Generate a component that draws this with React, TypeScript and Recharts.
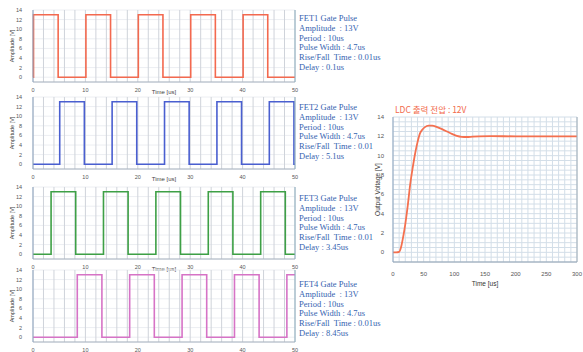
import React from 'react';
import { LineChart, Line, XAxis, YAxis, CartesianGrid } from 'recharts';

const pulseTimeTicks = [0, 10, 20, 30, 40, 50];
const amplitudeTicks = [0, 2, 4, 6, 8, 10, 12, 14];
const ldcTimeTicks = [0, 50, 100, 150, 200, 250, 300];
const ldcVoltTicks = [0, 2, 4, 6, 8, 10, 12, 14];

// switching edges of each gate pulse (time us, level V), drawn as steps
const fet1Pulse = [
  { t: 0, v: 0 }, { t: 0.1, v: 13 }, { t: 4.8, v: 0 }, { t: 10.1, v: 13 }, { t: 14.8, v: 0 },
  { t: 20.1, v: 13 }, { t: 24.8, v: 0 }, { t: 30.1, v: 13 }, { t: 34.8, v: 0 },
  { t: 40.1, v: 13 }, { t: 44.8, v: 0 }, { t: 50, v: 0 },
];
const fet2Pulse = [
  { t: 0, v: 0 }, { t: 5.1, v: 13 }, { t: 9.8, v: 0 }, { t: 15.1, v: 13 }, { t: 19.8, v: 0 },
  { t: 25.1, v: 13 }, { t: 29.8, v: 0 }, { t: 35.1, v: 13 }, { t: 39.8, v: 0 },
  { t: 45.1, v: 13 }, { t: 49.8, v: 0 }, { t: 50, v: 0 },
];
const fet3Pulse = [
  { t: 0, v: 0 }, { t: 3.45, v: 13 }, { t: 8.15, v: 0 }, { t: 13.45, v: 13 }, { t: 18.15, v: 0 },
  { t: 23.45, v: 13 }, { t: 28.15, v: 0 }, { t: 33.45, v: 13 }, { t: 38.15, v: 0 },
  { t: 43.45, v: 13 }, { t: 48.15, v: 0 }, { t: 50, v: 0 },
];
const fet4Pulse = [
  { t: 0, v: 0 }, { t: 8.45, v: 13 }, { t: 13.15, v: 0 }, { t: 18.45, v: 13 }, { t: 23.15, v: 0 },
  { t: 28.45, v: 13 }, { t: 33.15, v: 0 }, { t: 38.45, v: 13 }, { t: 43.15, v: 0 },
  { t: 48.45, v: 13 }, { t: 50, v: 13 },
];

// LDC output voltage (time us, V)
const ldcOutput = [
  { t: 0, v: 0 }, { t: 5, v: 0 }, { t: 10, v: 0.05 }, { t: 13, v: 0.5 }, { t: 16, v: 1.4 },
  { t: 20, v: 2.9 }, { t: 24, v: 4.8 }, { t: 28, v: 7.0 }, { t: 32, v: 8.7 }, { t: 36, v: 10.2 },
  { t: 40, v: 11.4 }, { t: 44, v: 12.3 }, { t: 48, v: 12.7 }, { t: 52, v: 12.95 }, { t: 58, v: 13.1 },
  { t: 64, v: 13.1 }, { t: 72, v: 12.95 }, { t: 80, v: 12.75 }, { t: 88, v: 12.5 }, { t: 96, v: 12.25 },
  { t: 104, v: 12.05 }, { t: 112, v: 11.95 }, { t: 120, v: 11.93 }, { t: 130, v: 11.97 },
  { t: 140, v: 12.0 }, { t: 160, v: 12.02 }, { t: 200, v: 12.0 }, { t: 250, v: 12.0 }, { t: 300, v: 12.0 },
];

const fet1Info = ['FET1 Gate Pulse', 'Amplitude  : 13V', 'Period : 10us', 'Pulse Width : 4.7us', 'Rise/Fall  Time : 0.01us', 'Delay : 0.1us'];
const fet2Info = ['FET2 Gate Pulse', 'Amplitude  : 13V', 'Period : 10us', 'Pulse Width : 4.7us', 'Rise/Fall  Time : 0.01', 'Delay : 5.1us'];
const fet3Info = ['FET3 Gate Pulse', 'Amplitude  : 13V', 'Period : 10us', 'Pulse Width : 4.7us', 'Rise/Fall  Time : 0.01', 'Delay : 3.45us'];
const fet4Info = ['FET4 Gate Pulse', 'Amplitude  : 13V', 'Period : 10us', 'Pulse Width : 4.7us', 'Rise/Fall  Time : 0.01us', 'Delay : 8.45us'];

// grid positions only (minor divisions)
const pulseGrid = Array.from({ length: 26 }, (_, i) => i * 2);
const ldcGridX = Array.from({ length: 31 }, (_, i) => i * 10);
const ldcGridY = Array.from({ length: 31 }, (_, i) => -1 + i * 0.5);

const sans = '"Liberation Sans", Arial, sans-serif';
const serif = '"Liberation Serif", "Times New Roman", serif';
const tickStyle = { fontSize: 5.5, fill: '#555', fontFamily: sans };

type PulseProps = { data: { t: number; v: number }[]; color: string; top: number; timeLabel?: boolean };

function PulseChart({ data, color, top, timeLabel = true }: PulseProps) {
  return (
    <div style={{ position: 'absolute', left: 0, top: top - 5 }}>
      <LineChart width={300} height={90} data={data} margin={{ top: 5, right: 0, bottom: 0, left: 0 }}>
        <CartesianGrid stroke="#eceef2" vertical={false} />
        <CartesianGrid stroke="#cfd3da" horizontal={false} />
        <XAxis
          dataKey="t"
          type="number"
          domain={[0, 50]}
          ticks={pulseGrid}
          interval={0}
          tickFormatter={(v: number) => (pulseTimeTicks.includes(v) ? String(v) : '')}
          tickLine={false}
          tickMargin={0}
          height={13}
          stroke="#a8b2bf"
          tick={tickStyle}
          label={timeLabel ? { value: 'Time [us]', position: 'insideBottom', offset: 1, style: { fontSize: 6, fill: '#444', fontFamily: sans } } : undefined}
        />
        <YAxis
          type="number"
          domain={[-1, 14]}
          ticks={amplitudeTicks}
          interval={0}
          width={33}
          tickLine={false}
          tickMargin={5}
          stroke="#8fa6c0"
          tick={tickStyle}
          label={{ value: 'Amplitude [V]', angle: -90, position: 'insideLeft', offset: 12, style: { fontSize: 5.5, fill: '#444', fontFamily: sans, textAnchor: 'middle' } }}
        />
        <YAxis yAxisId="frame" orientation="right" domain={[-1, 14]} width={5} tick={false} tickLine={false} stroke="#8fb0c0" />
        <Line type="stepAfter" dataKey="v" stroke={color} strokeWidth={1.6} dot={false} isAnimationActive={false} />
      </LineChart>
    </div>
  );
}

function InfoText({ lines, top }: { lines: string[]; top: number }) {
  return (
    <div style={{ position: 'absolute', left: 299, top: top - 4.9, fontFamily: serif, fontSize: 8.5, lineHeight: '9.8px', color: '#3563b0', whiteSpace: 'pre' }}>
      {lines.map((l) => (
        <div key={l}>{l}</div>
      ))}
    </div>
  );
}

export default function App() {
  return (
    <div style={{ position: 'absolute', left: 0, top: 0, width: 583, height: 352, background: '#fff', overflow: 'hidden' }}>
      <PulseChart data={fet1Pulse} color="#f3694f" top={10} />
      <PulseChart data={fet2Pulse} color="#4a5fd0" top={97} />
      <PulseChart data={fet3Pulse} color="#3ea046" top={187} />
      <PulseChart data={fet4Pulse} color="#d673c6" top={270} timeLabel={false} />

      <InfoText lines={fet1Info} top={19} />
      <InfoText lines={fet2Info} top={108} />
      <InfoText lines={fet3Info} top={199} />
      <InfoText lines={fet4Info} top={285} />

      <div style={{ position: 'absolute', left: 395, top: 103, fontFamily: '"Noto Sans CJK KR", sans-serif', fontSize: 8.5, lineHeight: '12px', color: '#f26a4b', whiteSpace: 'pre' }}>
        LDC 출력 전압 : 12V
      </div>

      <div style={{ position: 'absolute', left: 370, top: 112 }}>
        <LineChart width={213} height={176} data={ldcOutput} margin={{ top: 5, right: 3, bottom: 0, left: 0 }}>
          <CartesianGrid stroke="#d3dee8" />
          <XAxis
            dataKey="t"
            type="number"
            domain={[0, 300]}
            ticks={ldcGridX}
            interval={0}
            tickFormatter={(v: number) => (ldcTimeTicks.includes(v) ? String(v) : '')}
            tickLine={false}
            tickMargin={4}
            height={26}
            stroke="#8fa0b2"
            tick={{ fontSize: 6, fill: '#555', fontFamily: sans }}
            label={{ value: 'Time [us]', position: 'insideBottom', offset: 2, style: { fontSize: 6.5, fill: '#333', fontFamily: sans } }}
          />
          <YAxis
            type="number"
            domain={[-1, 14]}
            ticks={ldcGridY}
            interval={0}
            tickFormatter={(v: number) => (ldcVoltTicks.includes(v) ? String(v) : '')}
            width={23}
            tickLine={false}
            tickMargin={3}
            stroke="#8fa6c0"
            tick={{ fontSize: 6, fill: '#555', fontFamily: sans }}
            label={{ value: 'Output Voltage [V]', angle: -90, position: 'insideLeft', offset: 8, style: { fontSize: 6.5, fill: '#333', fontFamily: sans, textAnchor: 'middle' } }}
          />
          <YAxis yAxisId="frame" orientation="right" domain={[-1, 14]} width={3} tick={false} tickLine={false} stroke="#a0adb8" />
          <Line type="monotone" dataKey="v" stroke="#f4704f" strokeWidth={1.8} dot={false} isAnimationActive={false} />
        </LineChart>
      </div>
    </div>
  );
}
